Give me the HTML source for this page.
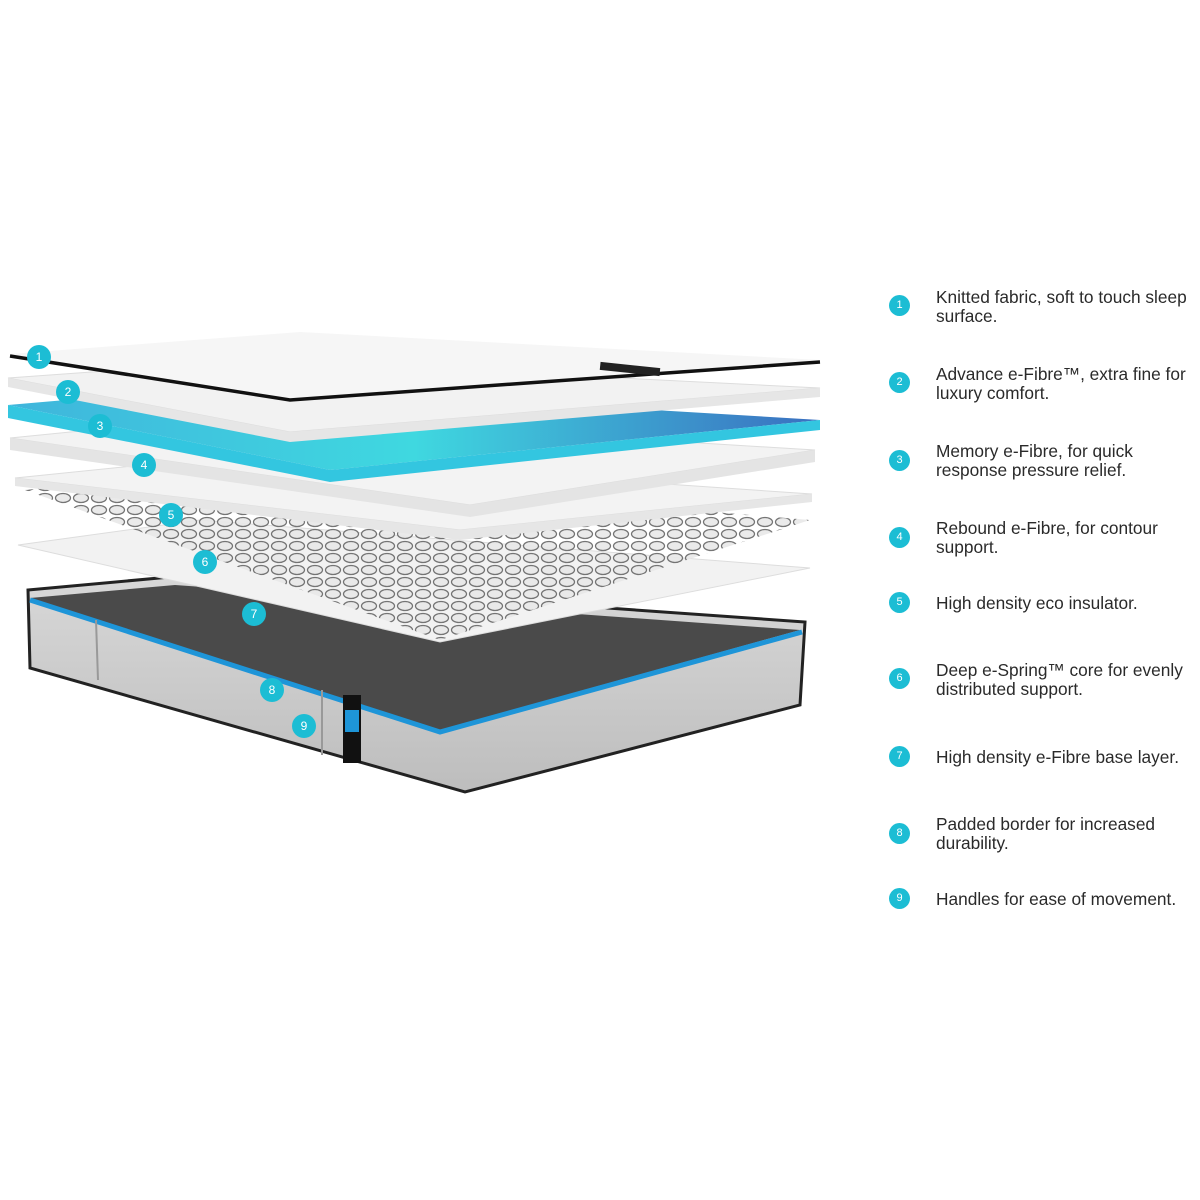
<!DOCTYPE html><html><head><style>
body{margin:0;width:1200px;height:1200px;background:#fff;position:relative;font-family:"Liberation Sans",sans-serif;overflow:hidden}
.l{position:absolute;left:936px;font-size:17.3px;line-height:19px;color:#2a2a2a;white-space:nowrap}
.c{position:absolute;left:889px;width:21px;height:21px;border-radius:50%;background:#1cbdd4;color:#fff;font-size:11px;text-align:center;line-height:21px}
</style></head><body>
<svg width="860" height="820" style="position:absolute;left:0;top:0">
<defs>
<linearGradient id="bl" x1="0" y1="0" x2="1" y2="0"><stop offset="0" stop-color="#3fb5dc"/><stop offset=".5" stop-color="#3fd8e0"/><stop offset="1" stop-color="#3a6fc0"/></linearGradient>
<linearGradient id="gr" x1="0" y1="0" x2="0" y2="1"><stop offset="0" stop-color="#d8d8d8"/><stop offset="1" stop-color="#bdbdbd"/></linearGradient>
<pattern id="sp" width="18" height="12" patternUnits="userSpaceOnUse"><ellipse cx="9" cy="6" rx="7.5" ry="4.5" fill="#e8e8e8" stroke="#666" stroke-width="1.3"/></pattern>
</defs>
<!-- base -->
<path d="M28 590 L170 577 L805 622 L800 705 L465 792 L30 668 Z" fill="url(#gr)" stroke="#222" stroke-width="3"/>
<path d="M30 598 L175 585 L800 630 L440 730 Z" fill="#4a4a4a"/>
<path d="M30 600 L440 732 L802 632" fill="none" stroke="#1e95d8" stroke-width="5"/>
<line x1="96" y1="620" x2="98" y2="680" stroke="#999" stroke-width="2"/>
<line x1="322" y1="690" x2="322" y2="755" stroke="#999" stroke-width="2"/>
<rect x="343" y="695" width="18" height="68" fill="#111"/><rect x="345" y="710" width="14" height="22" fill="#1e95d8"/>
<!-- layer 6 -->
<path d="M18 545 L200 520 L810 568 L440 642 Z" fill="#f2f2f2" stroke="#ddd"/>
<!-- springs -->
<path d="M25 490 L210 470 L810 520 L440 640 Z" fill="url(#sp)" opacity=".9"/>
<!-- layer 5 -->
<path d="M15 478 L240 455 L812 494 L460 530 Z" fill="#f3f3f3" stroke="#ddd"/>
<path d="M15 478 L460 530 L812 494 L812 502 L460 540 L15 486Z" fill="#e6e6e6"/>
<!-- layer 4 -->
<path d="M10 438 L240 415 L815 450 L470 505 Z" fill="#f3f3f3" stroke="#ddd"/>
<path d="M10 438 L470 505 L815 450 L815 462 L470 517 L10 450Z" fill="#e4e4e4"/>
<!-- layer 3 -->
<path d="M8 405 L240 385 L820 420 L330 470 Z" fill="url(#bl)"/>
<path d="M8 405 L330 470 L820 420 L820 430 L330 482 L8 418Z" fill="#33c6e0"/>
<!-- layer 2 -->
<path d="M8 378 L260 360 L820 388 L290 432 Z" fill="#f2f2f2" stroke="#ddd"/>
<path d="M8 378 L290 432 L820 388 L820 397 L290 442 L8 387Z" fill="#e6e6e6"/>
<!-- layer 1 -->
<path d="M10 354 L300 332 L820 360 L290 400 Z" fill="#f6f6f6"/>
<path d="M10 356 L290 400 L820 362" fill="none" stroke="#111" stroke-width="3.5"/>
<rect x="600" y="365" width="60" height="8" fill="#222" transform="rotate(6 630 369)"/>
<g fill="#1cbdd4">
<circle cx="39" cy="357" r="12"/><circle cx="68" cy="392" r="12"/><circle cx="100" cy="426" r="12"/><circle cx="144" cy="465" r="12"/><circle cx="171" cy="515" r="12"/><circle cx="205" cy="562" r="12"/><circle cx="254" cy="614" r="12"/><circle cx="272" cy="690" r="12"/><circle cx="304" cy="726" r="12"/>
</g>
<g fill="#fff" font-size="12" text-anchor="middle" font-family="Liberation Sans">
<text x="39" y="361">1</text><text x="68" y="396">2</text><text x="100" y="430">3</text><text x="144" y="469">4</text><text x="171" y="519">5</text><text x="205" y="566">6</text><text x="254" y="618">7</text><text x="272" y="694">8</text><text x="304" y="730">9</text>
</g>
</svg>
<div class="c" style="top:295px">1</div><div class="l" style="top:288px">Knitted fabric, soft to touch sleep<br>surface.</div>
<div class="c" style="top:372px">2</div><div class="l" style="top:365px">Advance e-Fibre™, extra fine for<br>luxury comfort.</div>
<div class="c" style="top:450px">3</div><div class="l" style="top:442px">Memory e-Fibre, for quick<br>response pressure relief.</div>
<div class="c" style="top:527px">4</div><div class="l" style="top:519px">Rebound e-Fibre, for contour<br>support.</div>
<div class="c" style="top:592px">5</div><div class="l" style="top:594px">High density eco insulator.</div>
<div class="c" style="top:668px">6</div><div class="l" style="top:661px">Deep e-Spring™ core for evenly<br>distributed support.</div>
<div class="c" style="top:746px">7</div><div class="l" style="top:748px">High density e-Fibre base layer.</div>
<div class="c" style="top:823px">8</div><div class="l" style="top:815px">Padded border for increased<br>durability.</div>
<div class="c" style="top:888px">9</div><div class="l" style="top:890px">Handles for ease of movement.</div>
</body></html>
